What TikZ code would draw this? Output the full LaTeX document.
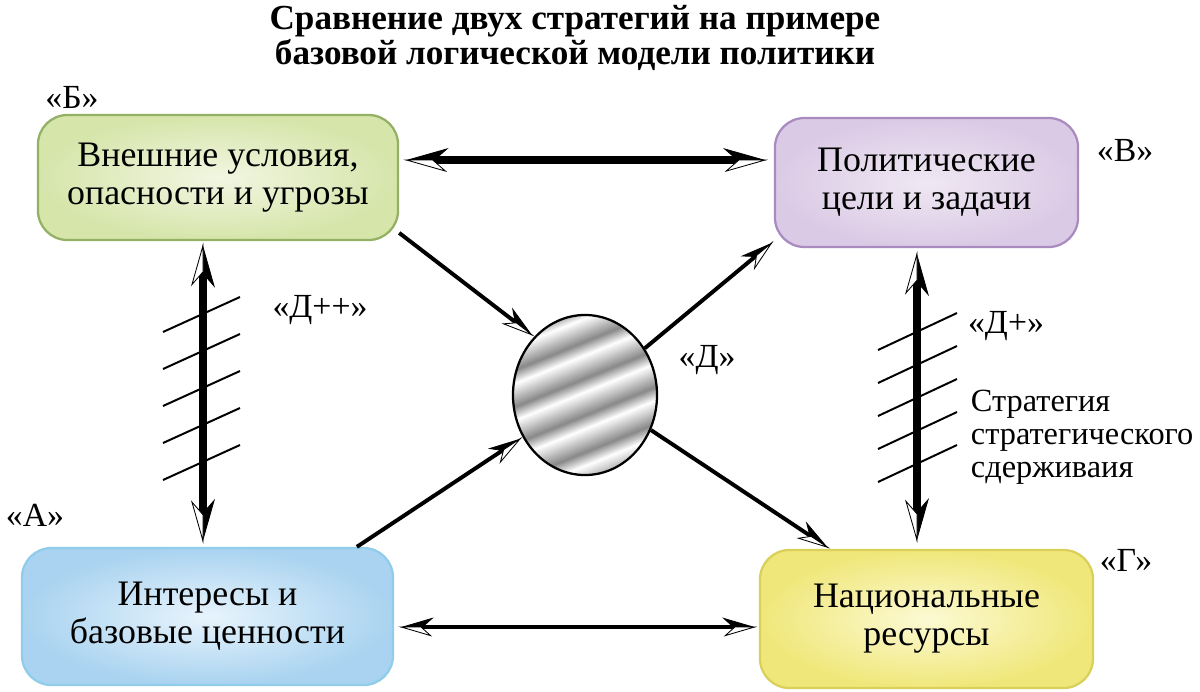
\documentclass[tikz,border=0pt]{standalone}
\usepackage{fontspec}
\setmainfont{Liberation Serif}
\usetikzlibrary{arrows.meta,shapes.geometric}
\definecolor{grnline}{HTML}{93B064}
\definecolor{grnin}{HTML}{F2F6E2}
\definecolor{grnout}{HTML}{D6E5AA}
\definecolor{vioine}{HTML}{A98BC0}
\definecolor{vioin}{HTML}{EFE8F3}
\definecolor{vioout}{HTML}{DBCAE5}
\definecolor{bluline}{HTML}{8FCDEB}
\definecolor{bluin}{HTML}{E8F4FC}
\definecolor{bluout}{HTML}{A9D3F0}
\definecolor{yelline}{HTML}{D9D05A}
\definecolor{yelin}{HTML}{FCFAD4}
\definecolor{yelout}{HTML}{F0E77A}
\definecolor{banddark}{HTML}{888888}
\pgfdeclareverticalshading{bands}{100bp}{color(0bp)=(banddark); color(7bp)=(white); color(11bp)=(banddark); color(18bp)=(white); color(22bp)=(banddark); color(29bp)=(white); color(33bp)=(banddark); color(40bp)=(white); color(44bp)=(banddark); color(51bp)=(white); color(55bp)=(banddark); color(62bp)=(white); color(66bp)=(banddark); color(73bp)=(white); color(77bp)=(banddark); color(84bp)=(white); color(88bp)=(banddark); color(95bp)=(white); color(100bp)=(banddark)}
\tikzset{
  hb/.tip={Stealth[harpoon,length=30pt,width=17pt,line width=.6pt,sep=-30pt]Stealth[harpoon,swap,fill=white,length=30pt,width=17pt,line width=.6pt]},
  hbs/.tip={Stealth[harpoon,swap,length=30pt,width=17pt,line width=.6pt,sep=-30pt]Stealth[harpoon,fill=white,length=30pt,width=17pt,line width=.6pt]},
  hs/.tip={Stealth[harpoon,length=23pt,width=13.5pt,line width=.6pt,sep=-23pt]Stealth[harpoon,swap,fill=white,length=23pt,width=13.5pt,line width=.6pt]},
  hss/.tip={Stealth[harpoon,swap,length=23pt,width=13.5pt,line width=.6pt,sep=-23pt]Stealth[harpoon,fill=white,length=23pt,width=13.5pt,line width=.6pt]},
  box/.style={draw,rounded corners=21pt,line width=1.6pt,align=center,shading=radial,font=\fontsize{25.5}{27}\selectfont},
  lbl/.style={font=\fontsize{24}{26}\selectfont},
  hatch/.style={line width=1.4pt}
}
\begin{document}
\begin{tikzpicture}[x=0.025cm,y=-0.025cm]
\useasboundingbox (0,0) rectangle (1200,691);
\node[font=\bfseries\fontsize{25}{24.5}\selectfont,align=center] (title) at (575,38) {Сравнение двух стратегий на примере\\базовой логической модели политики};

\node[box,draw=grnline,inner color=grnin,outer color=grnout,minimum width=9cm,minimum height=3.125cm] (B) at (218,177.5) {Внешние условия,\\опасности и угрозы};
\node[box,draw=vioine,inner color=vioin,outer color=vioout,minimum width=7.575cm,minimum height=3.225cm] (V) at (926.5,182.5) {Политические\\цели и задачи};
\node[box,draw=bluline,inner color=bluin,outer color=bluout,minimum width=9.275cm,minimum height=3.425cm] (A) at (207.5,616.5) {Интересы и\\базовые ценности};
\node[box,draw=yelline,inner color=yelin,outer color=yelout,minimum width=8.325cm,minimum height=3.45cm] (G) at (926.5,619) {Национальные\\ресурсы};
\node[ellipse,draw,line width=1.6pt,minimum width=3.6cm,minimum height=4cm,shading=bands,shading angle=22] (D) at (585,395) {};

\node[lbl] (lB) at (72,97) {«Б»};
\node[lbl] (lV) at (1125,150) {«В»};
\node[lbl] (lA) at (35,515) {«А»};
\node[lbl] (lG) at (1126,560) {«Г»};
\node[lbl] (lDpp) at (320,310) {«Д++»};
\node[lbl] (lD) at (707,360) {«Д»};
\node[lbl] (lDp) at (1006,326) {«Д+»};
\node[lbl,anchor=west,align=left,font=\fontsize{23}{23.5}\selectfont] (strat) at (966,437) {Стратегия\\стратегического\\сдерживаия};

\foreach \i in {0,...,4}
  \draw[hatch] (163,{332+37*\i}) -- (240,{297+37*\i});
\foreach \i in {0,...,4}
  \draw[hatch] (878,{350+33*\i}) -- (957,{313+33*\i});

\draw[line width=5pt,hbs-hb,shorten <=3pt,shorten >=4pt] (B.east |- 0,160) -- (V.west |- 0,160);
\draw[line width=2.8pt,hss-hs,shorten <=3pt,shorten >=1pt] (A.east |- 0,627) -- (G.west |- 0,627);
\draw[line width=5.7pt,hbs-hb,shorten <=1pt,shorten >=2pt] (B.south -| 203,0) -- (A.north -| 203,0);
\draw[line width=5.7pt,hbs-hb,shorten <=2pt,shorten >=4pt] (V.south -| 917,0) -- (G.north -| 917,0);
\draw[line width=2.8pt,-hs] (B.-17) -- (D.131);
\draw[line width=2.8pt,-hs] (A.25) -- (D.214);
\draw[line width=2.8pt,-hs] (D.38) -- (V.201);
\draw[line width=2.8pt,-hs] (D.-28) -- (G.144);
\end{tikzpicture}
\end{document}
